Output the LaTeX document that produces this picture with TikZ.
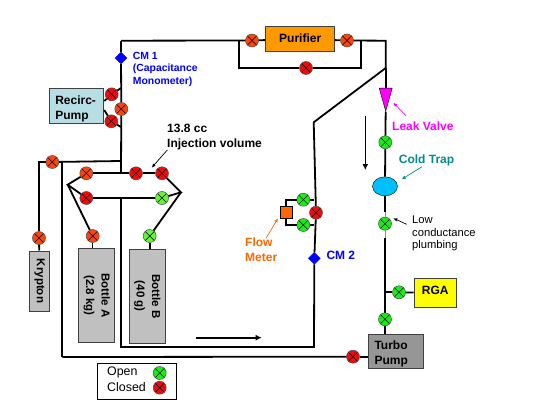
\documentclass[tikz,border=0pt]{standalone}
\usepackage{fontspec}
\setmainfont{Liberation Sans}
\usetikzlibrary{arrows.meta,positioning,shapes.geometric}
\definecolor{vRed}{RGB}{240,10,10}
\definecolor{vOrange}{RGB}{250,70,10}
\definecolor{vGreen}{RGB}{20,240,20}
\definecolor{vLime}{RGB}{100,245,50}
\definecolor{boxGray}{RGB}{192,192,192}
\definecolor{pumpGray}{RGB}{150,150,150}
\definecolor{recircBlue}{RGB}{183,222,228}
\definecolor{purifierOrange}{RGB}{255,153,0}
\definecolor{flowOrange}{RGB}{255,102,0}
\definecolor{trapTeal}{RGB}{0,140,140}
\definecolor{trapBlue}{RGB}{0,191,255}
\definecolor{leakPink}{RGB}{255,0,255}
\definecolor{rgaYellow}{RGB}{255,255,0}

\begin{document}
\begin{tikzpicture}[x=1pt,y=-1pt,
      valve/.style={circle,draw=black!70,line width=0.5pt,minimum size=13pt,inner sep=0pt,fill=#1,
                    path picture={\draw[black,line width=0.5pt]
                      (path picture bounding box.north west)--(path picture bounding box.south east)
                      (path picture bounding box.north east)--(path picture bounding box.south west);}},
      gauge/.style={diamond,draw=blue,fill=blue,minimum size=12pt,inner sep=0pt},
      unit/.style={draw=black!75,line width=1pt,inner sep=0pt,align=center,font=\bfseries\fontsize{12}{15}\selectfont},
      note/.style={inner sep=0pt,align=left,anchor=west,font=\bfseries\fontsize{12}{15}\selectfont},
      small/.style={note,font=\bfseries\fontsize{10.4}{12.8}\selectfont},
      pipe/.style={line width=1.8pt},
      arr/.style={-{Latex[length=4pt,width=3.5pt]},line width=0.7pt},
      flow/.style={-{Latex[length=6pt,width=6pt]},line width=1.6pt}]
    \useasboundingbox (0,0) rectangle (545,409);

    % top line and purifier
    \node[unit,fill=purifierOrange,minimum width=69pt,minimum height=25pt,text depth=2pt] (purifier) at (300.2,39) {Purifier};
    \node[valve=vOrange] (vPurL) at (252,40.5) {};
    \node[valve=vOrange] (vPurR) at (347,40.5) {};
    \node[valve=vRed] (vBypass) at (306,68) {};
    \coordinate (tl) at (121,40.7);
    \coordinate (tm) at (239,40.7);
    \coordinate (tn) at (361,40.7);
    \coordinate (tr) at (385.7,40.7);
    \coordinate (bl) at (239,68);
    \coordinate (br) at (361,68);
    \coordinate (kink) at (385.7,68);
    \draw[pipe,line join=round] (tl) -- (vPurL); \draw[pipe] (vPurL) -- (purifier); \draw[pipe] (purifier) -- (vPurR);
    \draw[pipe] (vPurR) -- (tr) -- (kink);
    \draw[pipe] (tm) -- (bl) -- (vBypass); \draw[pipe] (vBypass) -- (br) -- (tn);

    % left riser with CM 1 and recirculation pump
    \node[gauge] (cmOne) at (121,58) {};
    \node[small,text=blue] (cmOneText) at (132.7,69.3) {CM 1\\(Capacitance\\Monometer)};
    \node[unit,fill=recircBlue,align=left,text width=42.5pt,inner xsep=6pt,minimum height=34pt] (recirc) at (76.5,106) {\rule{0pt}{14pt}Recirc-\\Pump};
    \node[valve=vRed] (vRecA) at (111.7,94.3) {};
    \node[valve=vRed] (vRecB) at (111.3,121.3) {};
    \node[valve=vOrange] (vRecC) at (121.3,109) {};
    \coordinate (jTop) at (121,88);
    \coordinate (jBot) at (121,127);
    \coordinate (jLeft) at (121,161);
    \coordinate (jRow) at (121,173.3);
    \draw[pipe] (tl) -- (cmOne); \draw[pipe] (cmOne) -- (vRecC); \draw[pipe] (vRecC) -- (jRow);
    \draw[pipe] (recirc.east |- 0,101) -- (vRecA); \draw[pipe] (vRecA) -- (jTop);
    \draw[pipe] (recirc.east |- 0,110) -- (vRecB); \draw[pipe] (vRecB) -- (jBot);

    % injection volume
    \node[valve=vOrange] (vRowA) at (86.3,173.3) {};
    \node[valve=vRed] (vRowB) at (136,173.3) {};
    \node[valve=vRed] (vRowC) at (162,173.3) {};
    \node[valve=vRed] (vRowD) at (86.3,198) {};
    \node[valve=vLime] (vRowE) at (162,198) {};
    \coordinate (hexL) at (67.7,184.7);
    \coordinate (hexR) at (181,192.3);
    \coordinate (jIn) at (121,198);
    \draw[pipe] (vRowA) -- (vRowB); \draw[pipe] (vRowB) -- (vRowC); \draw[pipe] (vRowD) -- (vRowE);
    \draw[pipe] (vRowA) -- (hexL) -- (vRowD); \draw[pipe] (vRowC) -- (hexR) -- (vRowE);
    \node[note] (volText) at (167,137.5) {13.8 cc\\Injection volume};
    \coordinate (volTail) at (167.3,150);
    \coordinate (volHead) at (151.7,167.7);
    \draw[arr] (volTail) -- (volHead);

    % bottles and krypton
    \tikzset{bottle/.style={unit,fill=boxGray,rotate=-90,font=\bfseries\fontsize{11.5}{15.7}\selectfont}}
    \node[valve=vOrange] (vBotA) at (92.7,236) {};
    \node[valve=vLime] (vBotB) at (149.7,236) {};
    \node[bottle,minimum width=94pt,minimum height=36pt] (botA) at (96.8,295.3) {Bottle A\\(2.8 kg)};
    \node[bottle,minimum width=94pt,minimum height=36pt] (botB) at (147.3,296.3) {Bottle B\\(40 g)};
    \draw[pipe] (hexL) -- (vBotA); \draw[pipe] (hexR) -- (vBotB);
    \draw[line width=0.7pt] (vBotA) -- (vBotA |- botA.west); \draw[pipe] (vBotB) -- (vBotB |- botB.west);
    \node[valve=vOrange] (vKr) at (39,238) {};
    \node[bottle,minimum width=60pt,minimum height=20pt] (krypton) at (39.7,281) {Krypton};
    \node[valve=vOrange] (vLine) at (52.3,162) {};
    \coordinate (krTop) at (39,162);
    \coordinate (outerTop) at (62.3,161.7);
    \coordinate (outerBot) at (62.3,357);
    \draw[pipe] (vKr) -- (krypton); \draw[pipe] (vKr) -- (krTop) -- (vLine); \draw[pipe] (vLine) -- (jLeft);
    \draw[pipe] (outerTop) -- (outerBot);

    % return line through flow meter
    \coordinate (kinkLow) at (313.7,122.3);
    \coordinate (retCorner) at (314,347);
    \coordinate (retLeft) at (121,347);
    \node[valve=vRed] (vFlowC) at (316,212.7) {};
    \node[valve=vGreen] (vFlowA) at (303.3,199.7) {};
    \node[valve=vGreen] (vFlowB) at (303.3,225) {};
    \node[draw=black,fill=flowOrange,minimum size=12.5pt,inner sep=0pt] (flowMeter) at (286,212.3) {};
    \node[gauge] (cmTwo) at (314.3,258.3) {};
    \node[note,text=blue] (cmTwoText) at (326.3,255.7) {CM 2};
    \coordinate (flTop) at (286,199.7);
    \coordinate (flBot) at (286,225);
    \coordinate (flRTop) at (314,199.7);
    \coordinate (flRBot) at (314,225);
    \draw[pipe] (kink) -- (kinkLow) -- (vFlowC); \draw[pipe] (vFlowC) -- (cmTwo);
    \draw[pipe] (cmTwo) -- (retCorner) -- (retLeft) -- (jIn);
    \draw[pipe] (flowMeter) -- (flTop) -- (vFlowA); \draw[pipe] (vFlowA) -- (flRTop);
    \draw[pipe] (flowMeter) -- (flBot) -- (vFlowB); \draw[pipe] (vFlowB) -- (flRBot);
    \node[note,text=flowOrange] (flowText) at (245,249.5) {Flow\\Meter};
    \coordinate (flowTail) at (266,238.3);
    \coordinate (flowHead) at (278,218.3);
    \draw[arr,draw=flowOrange] (flowTail) -- (flowHead);

    % pump line
    \node[isosceles triangle,isosceles triangle stretches,shape border rotate=-90,draw=black,fill=leakPink,inner sep=0pt,
          minimum width=13pt,minimum height=23pt,anchor=apex] (leak) at (385.7,111.7) {};
    \node[valve=vGreen] (vLeak) at (385.3,142.3) {};
    \node[ellipse,draw=black,fill=trapBlue,minimum width=25pt,minimum height=19pt,inner sep=0pt] (trap) at (385,186.3) {};
    \node[valve=vGreen] (vLow) at (385,223.7) {};
    \node[valve=vGreen] (vRga) at (399,292.3) {};
    \node[valve=vGreen] (vTurbo) at (385,319.3) {};
    \node[unit,fill=rgaYellow,minimum width=42pt,minimum height=29pt,text depth=5pt,anchor=north west] (rga) at (413.7,278) {RGA};
    \node[unit,fill=pumpGray,align=left,text width=42.7pt,inner xsep=6pt,minimum height=34pt,anchor=north west] (turbo) at (368,334) {\rule{0pt}{14pt}Turbo\\Pump};
    \node[valve=vRed] (vPump) at (353,356.7) {};
    \coordinate (jRga) at (385,292.3);
    \coordinate (thinTop) at (385,212);
    \coordinate (thinBot) at (385,238);
    \draw[pipe] (kink) -- (leak.north); \draw[pipe] (leak.apex) -- (vLeak); \draw[pipe] (vLeak) -- (trap);
    \draw[pipe] (trap) -- (thinTop);
    \draw[line width=0.8pt,black!45] (thinTop) -- (vLow);
    \draw[line width=0.8pt,black!45] (vLow) -- (thinBot);
    \draw[pipe] (thinBot) -- (jRga) -- (vTurbo);
    \draw[pipe] (jRga) -- (vRga); \draw[pipe] (vRga) -- (rga);
    \draw[pipe] (vTurbo) -- (vTurbo |- turbo.north);
    \draw[pipe] (outerBot) -- (vPump); \draw[pipe] (vPump) -- (vPump -| turbo.west);
    \node[note,text=leakPink] (leakText) at (392,126.3) {Leak Valve};
    \node[note,text=trapTeal] (trapText) at (398.7,160.3) {Cold Trap};
    \coordinate (leakTail) at (406,115.7);
    \coordinate (leakHead) at (393.3,102.7);
    \coordinate (trapTail) at (422,166.7);
    \coordinate (trapHead) at (401.7,179.3);
    \draw[arr,draw=leakPink] (leakTail) -- (leakHead);
    \draw[arr,draw=trapTeal] (trapTail) -- (trapHead);
    \node[note,font=\fontsize{11.2}{12.8}\selectfont] (lowText) at (412,233.5) {Low\\conductance\\plumbing};
    \coordinate (lowTail) at (406.7,224.3);
    \coordinate (lowHead) at (393.3,218.3);
    \draw[arr] (lowTail) -- (lowHead);

    % flow direction
    \coordinate (downTail) at (365.3,115.7);
    \coordinate (downHead) at (365.3,170);
    \coordinate (rightTail) at (195.7,337.7);
    \coordinate (rightHead) at (261.7,337.7);
    \draw[flow] (downTail) -- (downHead);
    \draw[flow] (rightTail) -- (rightHead);

    % legend
    \node[draw,line width=1pt,minimum width=79pt,minimum height=36.5pt,anchor=north west] (legend) at (96.7,362.7) {};
    \node[valve=vGreen] (keyOpen) at (159.7,373) {};
    \node[valve=vRed] (keyClosed) at (159.7,387.7) {};
    \node[note,font=\fontsize{12.4}{15}\selectfont] (openText) at (107,372.5) {Open};
    \node[note,font=\fontsize{12.4}{15}\selectfont] (closedText) at (107,387.3) {Closed};
\end{tikzpicture}
\end{document}
